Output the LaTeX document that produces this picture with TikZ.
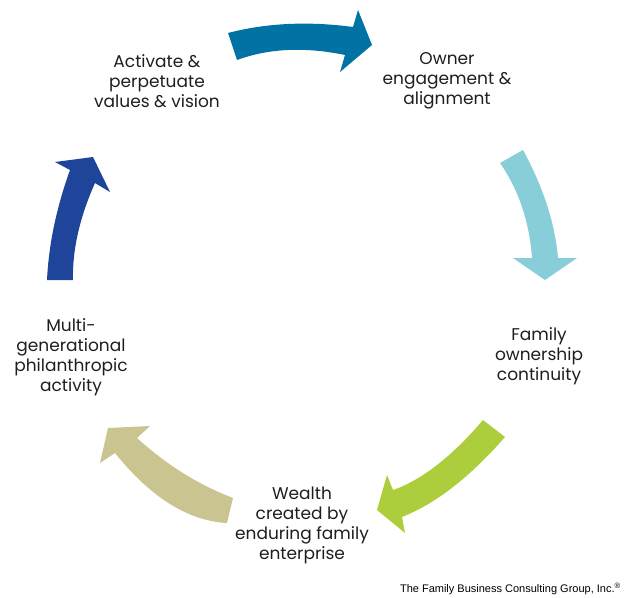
\documentclass[tikz,border=0pt]{standalone}
\usepackage{fontspec}
\setmainfont{Poppins}
\newfontfamily\footfont{Liberation Sans}
\definecolor{arrowteal}{RGB}{0,114,163}
\definecolor{arrowcyan}{RGB}{135,206,216}
\definecolor{arrowlime}{RGB}{172,206,60}
\definecolor{arrowtan}{RGB}{201,196,144}
\definecolor{arrowblue}{RGB}{31,69,155}
\definecolor{labeltext}{RGB}{30,30,30}
\begin{document}
\begin{tikzpicture}[x=1pt,y=-1pt,
  steplabel/.style={align=center, inner sep=0pt, text=labeltext,
    font=\fontsize{17}{20}\selectfont},
  footnote/.style={inner sep=0pt, text=black, font=\footfont\fontsize{11}{12}\selectfont}]
\useasboundingbox (0,0) rectangle (636,597);

% curved block arrows of the cycle
\fill[arrowteal] (228,33) .. controls (266.3,23) and (308,21) .. (353,27)
  -- (358,10) -- (372,45) -- (340,72) -- (345,55)
  .. controls (305,46.7) and (269,48.3) .. (237,60) -- cycle;

\fill[arrowcyan] (523,150) .. controls (543.3,187.3) and (555,223.3) .. (558,258)
  -- (577,258) -- (545,280) -- (513,258) -- (532,258)
  .. controls (529.3,221.7) and (518.7,190) .. (500,163) -- cycle;

\fill[arrowlime] (505,437) .. controls (470,477) and (435.7,503.7) .. (402,517)
  -- (405,533) -- (377,510) -- (387,475) -- (393,490)
  .. controls (421.7,480) and (451.7,456.7) .. (483,420) -- cycle;

\fill[arrowtan] (227,523) .. controls (188.3,521) and (151,497.7) .. (115,453)
  -- (100,463) -- (108,428) -- (150,426) -- (137,438)
  .. controls (166.3,464.7) and (198.3,484.7) .. (233,498) -- cycle;

\fill[arrowblue] (47,280) .. controls (48.7,244.7) and (56.3,208) .. (70,170)
  -- (55,162) -- (93,157) -- (110,192) -- (95,183)
  .. controls (79.7,217.3) and (72.3,249.7) .. (73,280) -- cycle;

% step labels
\node[steplabel] (activate) at (157,81) {Activate \&\\perpetuate\\values \& vision};
\node[steplabel] (owner) at (447,81) {Owner\\engagement \&\\alignment};
\node[steplabel] (family) at (539,356) {Family\\ownership\\continuity};
\node[steplabel] (wealth) at (302,525) {Wealth\\created by\\enduring family\\enterprise};
\node[steplabel] (multi) at (71,357) {Multi-\\generational\\philanthropic\\activity};

% credit line
\node[footnote, anchor=base east] (credit) at (621,592)
  {The Family Business Consulting Group, Inc.\textsuperscript{\textregistered}};
\end{tikzpicture}
\end{document}
